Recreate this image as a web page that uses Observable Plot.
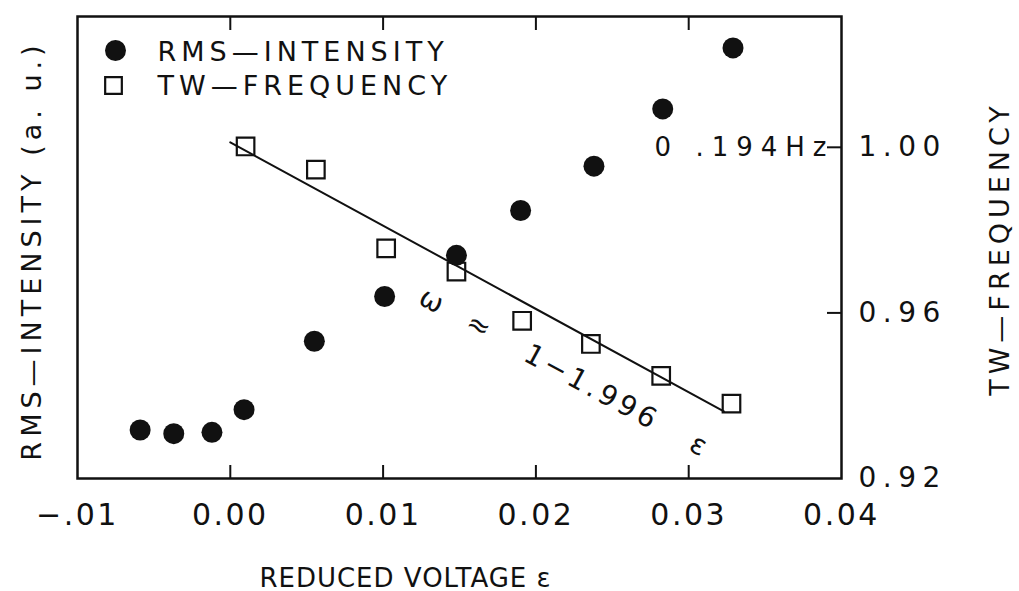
<!DOCTYPE html>
<html>
<head>
<meta charset="utf-8">
<script src="https://cdn.jsdelivr.net/npm/d3@7"></script>
<script src="https://cdn.jsdelivr.net/npm/@observablehq/plot@0.6"></script>
<style>
  html, body { margin: 0; padding: 0; background: #fff; }
  #chart svg { display: block; }
</style>
</head>
<body>
<div id="chart"></div>
<script>
// RMS intensity (arbitrary units) versus reduced voltage
const rmsEps = [-0.0059, -0.0037, -0.0012, 0.0009, 0.0055, 0.0101, 0.0148, 0.0190, 0.0238, 0.0283, 0.0329];
const rmsIntensity = [1.05, 0.97, 1.00, 1.49, 2.97, 3.94, 4.83, 5.80, 6.76, 8.00, 9.32];

// Normalised travelling-wave frequency versus reduced voltage
const twEps = [0.0010, 0.0056, 0.0102, 0.0148, 0.0191, 0.0236, 0.0282, 0.0328];
const twFreq = [1.0002, 0.9946, 0.9756, 0.9700, 0.9581, 0.9525, 0.9448, 0.9381];

// Fitted line omega = 1 - 1.996 eps (end points as drawn)
const fitEps = [0.0000, 0.0323];
const fitFreq = [1.0012, 0.9362];

// Axis ticks and labels
const xLabelTicks = [-0.01, 0, 0.01, 0.02, 0.03, 0.04];
const xTickLabels = ["\u2212.01", "0.00", "0.01", "0.02", "0.03", "0.04"];
const xMarkTicks = [0, 0.01, 0.02, 0.03];
const yLabelTicks = [0.92, 0.96, 1.00];
const yTickLabels = ["0.92", "0.96", "1.00"];
const yMarkTicks = [0.96, 1.00];

// Texts
const legendLabels = ["RMS\u2014INTENSITY", "TW\u2014FREQUENCY"];
const yTitle = "RMS\u2014INTENSITY (a. u.)";
const y2Title = "TW\u2014FREQUENCY";
const xTitle = "REDUCED VOLTAGE \u03b5";
const hzLabel = "0\u00a0.194Hz";
const hzAt = [1.00];
const equationText = "\u03c9\u00a0\u00a0\u2248\u00a0\u00a0\u00a01\u22121.996\u00a0\u00a0\u00a0\u03b5";
const equationEps = [0.0219];
const equationFreq = [0.9455];

// Domains
const xDomain = [-0.01, 0.04];
const yDomain = [0.92, 1.0316];
const rmsDomain = [0, 10];

const rmsToY = d3.scaleLinear(rmsDomain, yDomain);

const rmsData = rmsEps.map((e, i) => ({eps: e, y: rmsToY(rmsIntensity[i])}));
const twData = twEps.map((e, i) => ({eps: e, f: twFreq[i]}));
const fitData = fitEps.map((e, i) => ({eps: e, f: fitFreq[i]}));
const eqData = equationEps.map((e, i) => ({eps: e, f: equationFreq[i]}));

const ink = "#111";
const font = "DejaVu Sans";

const chart = Plot.plot({
  width: 1019,
  height: 591,
  marginLeft: 77,
  marginRight: 178,
  marginTop: 16,
  marginBottom: 113,
  style: {fontFamily: font, color: ink, background: "#fff", overflow: "visible"},
  x: {domain: xDomain, label: null},
  y: {domain: yDomain, label: null},
  marks: [
    Plot.frame({stroke: ink, strokeWidth: 2.5}),
    // bottom axis labels and inward ticks
    Plot.axisX({anchor: "bottom", ticks: xLabelTicks, tickSize: 0, tickPadding: 25,
      tickFormat: d => xTickLabels[xLabelTicks.indexOf(d)], fontSize: 30, label: null, fill: ink}),
    Plot.axisX({anchor: "bottom", ticks: xMarkTicks, tickSize: -13, strokeWidth: 2, fill: "none", label: null}),
    Plot.axisX({anchor: "top", ticks: xMarkTicks, tickSize: -13, strokeWidth: 2, fill: "none", label: null}),
    // right axis
    Plot.axisY({anchor: "right", ticks: yLabelTicks, tickSize: 0, tickPadding: 17,
      tickFormat: d => yTickLabels[yLabelTicks.indexOf(d)], fontSize: 28, label: null, fill: ink}),
    Plot.axisY({anchor: "right", ticks: yMarkTicks, tickSize: -15, strokeWidth: 2, fill: "none", label: null}),
    // fit line
    Plot.line(fitData, {x: "eps", y: "f", stroke: ink, strokeWidth: 2}),
    // data
    Plot.dot(twData, {x: "eps", y: "f", symbol: "square", r: 9.9, stroke: ink, strokeWidth: 2.2, fill: "none"}),
    Plot.dot(rmsData, {x: "eps", y: "y", r: 10.5, fill: ink, stroke: "none"}),
    // annotations
    Plot.text(hzAt, {y: d => d, frameAnchor: "right", text: () => hzLabel, textAnchor: "end", dx: -7,
      fontSize: 26, fill: ink}),
    Plot.text(eqData, {x: "eps", y: "f", text: () => equationText, rotate: 28.5, fontSize: 28, fill: ink}),
    // legend
    Plot.dot([legendLabels[0]], {frameAnchor: "top-left", dx: 38, dy: 34, r: 10.5, fill: ink, stroke: "none"}),
    Plot.dot([legendLabels[1]], {frameAnchor: "top-left", dx: 36, dy: 69, r: 9.4, symbol: "square",
      stroke: ink, strokeWidth: 2.2, fill: "none"}),
    Plot.text([legendLabels[0]], {frameAnchor: "top-left", dx: 80, dy: 36, text: d => d,
      textAnchor: "start", lineAnchor: "middle", fontSize: 27, fill: ink}),
    Plot.text([legendLabels[1]], {frameAnchor: "top-left", dx: 80, dy: 70, text: d => d,
      textAnchor: "start", lineAnchor: "middle", fontSize: 27, fill: ink}),
    // axis titles
    Plot.text([yTitle], {frameAnchor: "left", dx: -45, dy: 3, rotate: -90, text: d => d, fontSize: 27,
      textAnchor: "middle", lineAnchor: "middle", fill: ink}),
    Plot.text([y2Title], {frameAnchor: "right", dx: 159, dy: 1, rotate: -90, text: d => d, fontSize: 27,
      textAnchor: "middle", lineAnchor: "middle", fill: ink}),
    Plot.text([xTitle], {frameAnchor: "bottom", dx: -54, dy: 100, text: d => d, fontSize: 26,
      textAnchor: "middle", lineAnchor: "middle", fill: ink})
  ]
});

// letter spacing to imitate the wide plotter lettering
const spacing = new Map([
  [legendLabels[0], 5], [legendLabels[1], 5], [yTitle, 5], [y2Title, 5],
  [xTitle, 1], [hzLabel, 8], [equationText, 4]
]);
xTickLabels.forEach(s => spacing.set(s, 2.5));
yTickLabels.forEach(s => spacing.set(s, 6.5));
chart.querySelectorAll("text").forEach(t => {
  const s = t.textContent;
  if (spacing.has(s)) t.style.letterSpacing = spacing.get(s) + "px";
});

document.getElementById("chart").appendChild(chart);
</script>
</body>
</html>
